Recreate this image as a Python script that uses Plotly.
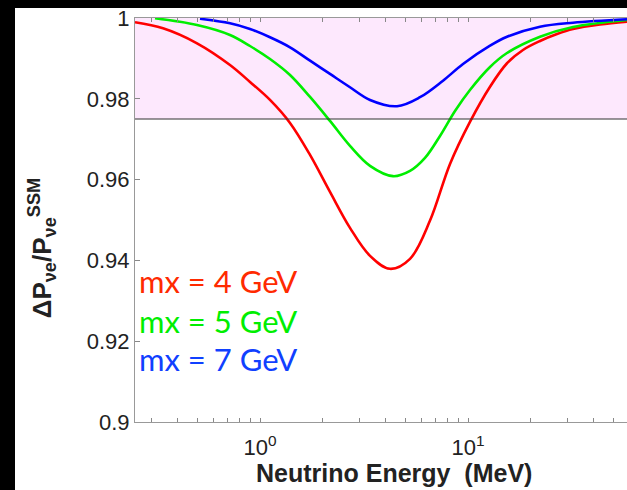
import plotly.graph_objects as go

# ---- data ----
energy_red = [0.2506, 0.3418, 0.498, 0.7173, 0.8953, 1.117, 1.394, 1.740, 2.170, 2.708, 3.380,
              4.217, 5.263, 6.567, 8.194, 10.22, 12.76, 15.40, 18.38, 22.19, 26.79, 31.98,
              43.12, 58.13]
ratio_red = [0.99894, 0.99745, 0.99374, 0.98837, 0.98417, 0.97972, 0.97403, 0.96611, 0.95696,
             0.94806, 0.94113, 0.93792, 0.94039, 0.94986, 0.96389, 0.97430, 0.98300, 0.98880,
             0.99209, 0.99431, 0.99604, 0.99728, 0.99839, 0.99908]

energy_green = [0.3127, 0.498, 0.7173, 0.8953, 1.117, 1.394, 1.740, 2.170, 2.708, 3.380, 4.359,
                5.263, 6.212, 7.334, 8.660, 10.22, 12.76, 15.40, 22.19, 31.98, 58.13]
ratio_green = [0.99993, 0.99827, 0.99580, 0.99307, 0.98986, 0.98590, 0.98046, 0.97452, 0.96834,
               0.96339, 0.96085, 0.96216, 0.96537, 0.97081, 0.97700, 0.98219, 0.98788, 0.99134,
               0.99537, 0.99777, 0.99951]

energy_blue = [0.5147, 0.7173, 0.8953, 1.117, 1.394, 1.740, 2.170, 2.708, 3.380, 4.557, 5.878,
               7.584, 9.462, 12.76, 15.40, 22.19, 31.98, 58.13]
ratio_blue = [0.99980, 0.99869, 0.99728, 0.99523, 0.99275, 0.98944, 0.98615, 0.98286, 0.97972,
              0.97816, 0.98039, 0.98449, 0.98862, 0.99315, 0.99537, 0.99785, 0.99884, 0.99968]

band_low = 0.975
band_high = 1.0

y_tick_vals = [0.9, 0.92, 0.94, 0.96, 0.98, 1.0]
y_tick_text = ["0.9", "0.92", "0.94", "0.96", "0.98", "1"]
x_tick_vals = [0.3, 0.4, 0.5, 0.6, 0.7, 0.8, 0.9, 1, 2, 3, 4, 5, 6, 7, 8, 9, 10, 20, 30, 40, 50]
x_tick_text = ["10<sup>0</sup>" if v == 1 else ("10<sup>1</sup>" if v == 10 else "") for v in x_tick_vals]

labels = ["mx = 4 GeV", "mx = 5 GeV", "mx = 7 GeV"]
label_colors = ["#ff2a00", "#00ee00", "#1040ff"]
line_colors = ["#ff0000", "#00ee00", "#0000ff"]

fig = go.Figure()

# pink band
fig.add_shape(type="rect", xref="paper", yref="y", x0=0, x1=1, y0=band_low, y1=band_high,
              fillcolor="rgb(253,232,253)", line=dict(width=0), layer="below")
fig.add_shape(type="line", xref="paper", yref="y", x0=0, x1=1, y0=band_low, y1=band_low,
              line=dict(color="#333333", width=1.2))

for xs, ys, c in [(energy_red, ratio_red, line_colors[0]),
                  (energy_green, ratio_green, line_colors[1]),
                  (energy_blue, ratio_blue, line_colors[2])]:
    fig.add_trace(go.Scatter(x=xs, y=ys, mode="lines",
                             line=dict(color=c, width=2.6, shape="spline", smoothing=1.0),
                             showlegend=False, hoverinfo="skip"))

# black frame bands (left and top)
fig.add_shape(type="rect", xref="paper", yref="paper", x0=-0.30, x1=-0.2439, y0=-0.2, y1=1.1,
              fillcolor="black", line=dict(width=0))
fig.add_shape(type="rect", xref="paper", yref="paper", x0=-0.30, x1=1.05, y0=1.0248, y1=1.1,
              fillcolor="black", line=dict(width=0))

for i, (t, c) in enumerate(zip(labels, label_colors)):
    fig.add_annotation(xref="paper", yref="paper", x=0.004, y=[0.349, 0.251, 0.157][i],
                       xanchor="left", yanchor="middle", text=t, showarrow=False,
                       font=dict(family="Lato", size=31, color=c))

fig.add_annotation(xref="paper", yref="paper", x=-0.189, y=0.43, textangle=-90,
                   xanchor="center", yanchor="middle", showarrow=False,
                   text="<b>ΔP<sub>νe</sub>/P<sub>νe</sub><sup>SSM</sup></b>",
                   font=dict(family="Liberation Sans", size=26, color="#222222"))
fig.add_annotation(xref="paper", yref="paper", x=0.5258, y=-0.126,
                   xanchor="center", yanchor="middle", showarrow=False,
                   text="<b>Neutrino Energy  (MeV)</b>",
                   font=dict(family="Liberation Sans", size=25, color="#222222"))

fig.update_xaxes(type="log", range=[-0.601, 1.7644], tickvals=x_tick_vals, ticktext=x_tick_text,
                 ticks="inside", ticklen=4, tickcolor="#888888", showline=True, linecolor="#999999",
                 linewidth=1, mirror="ticks", showgrid=False, zeroline=False, ticklabelstandoff=6,
                 tickfont=dict(family="Liberation Sans", size=22, color="#222222"))
fig.update_yaxes(range=[0.9, 1.0], tickvals=y_tick_vals, ticktext=y_tick_text,
                 ticks="inside", ticklen=5, tickcolor="#888888", showline=True, linecolor="#999999",
                 linewidth=1, mirror=False, showgrid=False, zeroline=False,
                 tickfont=dict(family="Liberation Sans", size=22, color="#222222"))

fig.update_layout(width=627, height=490, margin=dict(l=135, r=0, t=18, b=68),
                  paper_bgcolor="white", plot_bgcolor="white")

fig.write_html("out.html")
